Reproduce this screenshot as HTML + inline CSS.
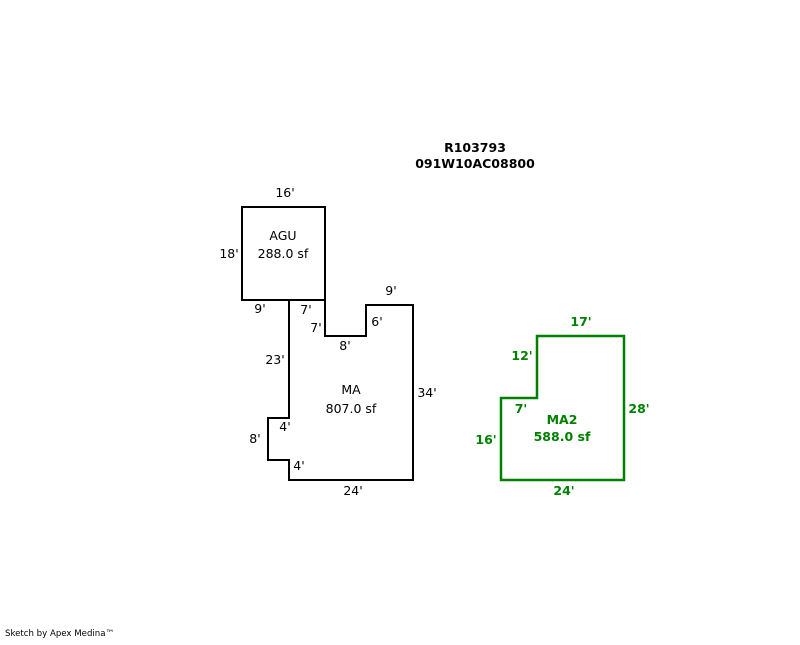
<!DOCTYPE html>
<html><head><style>
body{margin:0;background:#fff;width:800px;height:640px;overflow:hidden}
text{font-family:"DejaVu Sans",sans-serif;font-size:12.5px}
text.ft{font-size:8.6px}
</style></head><body>
<svg width="800" height="640" xmlns="http://www.w3.org/2000/svg">
<g fill="none" stroke="#000" stroke-width="2">
<rect x="242" y="207" width="83" height="93"/>
<polygon points="289,300 325,300 325,336 366,336 366,305 413,305 413,480 289,480 289,460 268,460 268,418 289,418"/>
</g>
<polygon points="501,398 537,398 537,336 624,336 624,480 501,480" fill="none" stroke="#008000" stroke-width="2.5"/>
<g fill="#000" text-anchor="middle">
<text x="475" y="152" font-weight="bold">R103793</text>
<text x="475" y="168" font-weight="bold">091W10AC08800</text>
<text x="285" y="197">16'</text>
<text x="229" y="258">18'</text>
<text x="283" y="240">AGU</text>
<text x="283" y="258">288.0 sf</text>
<text x="260" y="313">9'</text>
<text x="306" y="314">7'</text>
<text x="316" y="332">7'</text>
<text x="377" y="326">6'</text>
<text x="391" y="295">9'</text>
<text x="345" y="350">8'</text>
<text x="275" y="364">23'</text>
<text x="351" y="394">MA</text>
<text x="351" y="413">807.0 sf</text>
<text x="427" y="397">34'</text>
<text x="285" y="431">4'</text>
<text x="255" y="443">8'</text>
<text x="299" y="470">4'</text>
<text x="353" y="495">24'</text>
</g>
<g fill="#008000" text-anchor="middle" font-weight="bold">
<text x="581" y="326">17'</text>
<text x="522" y="360">12'</text>
<text x="521" y="413">7'</text>
<text x="639" y="413">28'</text>
<text x="562" y="424">MA2</text>
<text x="562" y="441">588.0 sf</text>
<text x="486" y="444">16'</text>
<text x="564" y="495">24'</text>
</g>
<text class="ft" x="5" y="636">Sketch by Apex Medina™</text>
</svg>
</body></html>
